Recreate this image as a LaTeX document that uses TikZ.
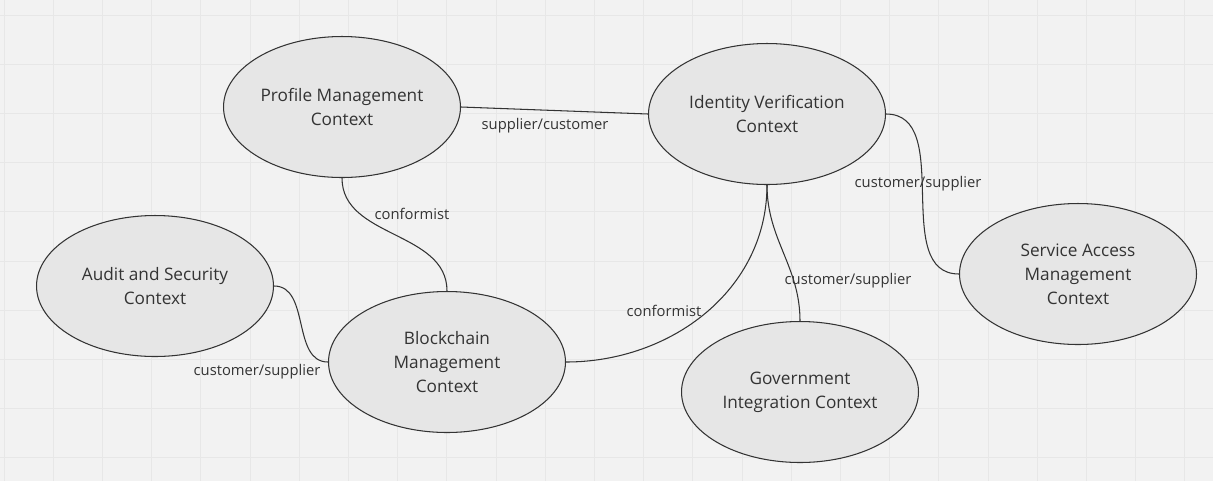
\documentclass[tikz,border=0pt]{standalone}
\usepackage{fontspec}
\setmainfont{Open Sans}
\usepackage{xcolor}
\usetikzlibrary{shapes.geometric}

\definecolor{boardbg}{HTML}{F2F2F2}
\definecolor{boardgrid}{HTML}{E7E7E7}
\definecolor{ctxfill}{HTML}{E6E6E6}
\definecolor{inkgray}{HTML}{333333}

\begin{document}
\begin{tikzpicture}[
        x=0.02cm, y=-0.02cm,
        context/.style={ellipse, draw=inkgray, fill=ctxfill, line width=0.6pt,
            minimum width=4.74cm, minimum height=2.82cm, inner sep=0pt,
            align=center, text=inkgray, font=\fontsize{9.8}{13.7}\selectfont},
        relation/.style={draw=inkgray, line width=0.6pt},
        rellabel/.style={text=inkgray, inner sep=1pt, font=\fontsize{8.4}{10}\selectfont}
    ]
        % board
        \fill[boardbg] (0,0) rectangle (1213,481);
        \useasboundingbox (0,0) rectangle (1213,481);
        \foreach \i in {0,...,24}
            \draw[boardgrid, line width=0.5pt] ({4+49.2*\i},0) -- ++(0,481);
        \foreach \j in {0,...,9}
            \draw[boardgrid, line width=0.5pt] (0,{15+49.2*\j}) -- ++(1213,0);

        % bounded contexts
        \node[context] (profile) at (342,107) {Profile Management\\Context};
        \node[context] (identity) at (767,114) {Identity Verification\\Context};
        \node[context] (audit) at (155,286) {Audit and Security\\Context};
        \node[context] (chain) at (447,362) {Blockchain\\Management\\Context};
        \node[context] (gov) at (800,392) {Government\\Integration Context};
        \node[context] (access) at (1078,274) {Service Access\\Management\\Context};

        % relations
        \draw[relation] (profile.east) -- (identity.west);
        \draw[relation] (profile.south) to[out=-90, in=90] (chain.north);
        \draw[relation] (audit.east) to[out=0, in=180] (chain.west);
        \draw[relation] (chain.east) to[out=0, in=-90] (identity.south);
        \draw[relation] (identity.south) to[out=-90, in=90] (gov.north);
        \draw[relation] (identity.east) to[out=0, in=180] (access.west);

        \node[rellabel] (l1) at (545,126) {supplier/customer};
        \node[rellabel] (l2) at (412,214) {conformist};
        \node[rellabel] (l3) at (257,372) {customer/supplier};
        \node[rellabel] (l4) at (664,311) {conformist};
        \node[rellabel] (l5) at (848,281) {customer/supplier};
        \node[rellabel] (l6) at (918,184) {customer/supplier};
    \end{tikzpicture}
\end{document}
